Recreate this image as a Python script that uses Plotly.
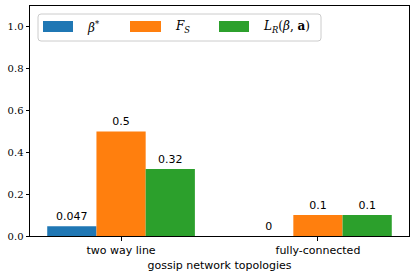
import plotly.graph_objects as go

categories = ["two way line", "fully-connected"]
series_names = ["<i>β</i><sup>*</sup>", "<i>F<sub>S</sub></i>", "<i>L<sub>R</sub></i>(<i>β</i>, <b>a</b>)"]
beta_star = [0.047, 0.0]
f_s = [0.5, 0.1]
l_r = [0.32, 0.1]
colors = ["#1f77b4", "#ff7f0e", "#2ca02c"]

fig = go.Figure()
for name, vals, col in zip(series_names, [beta_star, f_s, l_r], colors):
    fig.add_trace(go.Bar(
        x=categories, y=vals, name=name, marker_color=col,
        marker_line_width=0, showlegend=False,
        text=[f"{v:g}" for v in vals], textposition="outside",
        textfont=dict(family="DejaVu Sans", size=11, color="black"),
        cliponaxis=False,
    ))

# custom legend (matplotlib style: long patches in a rounded box)
L, R, T, B = 30, 409, 6, 236
def px(x): return (x - L) / (R - L)
def py(y): return (B - y) / (B - T)

bx0, bx1, by0, by1, r = 38, 321, 14, 41, 3
path = (f"M {px(bx0 + r)},{py(by0)} L {px(bx1 - r)},{py(by0)} "
        f"Q {px(bx1)},{py(by0)} {px(bx1)},{py(by0 + r)} "
        f"L {px(bx1)},{py(by1 - r)} Q {px(bx1)},{py(by1)} {px(bx1 - r)},{py(by1)} "
        f"L {px(bx0 + r)},{py(by1)} Q {px(bx0)},{py(by1)} {px(bx0)},{py(by1 - r)} "
        f"L {px(bx0)},{py(by0 + r)} Q {px(bx0)},{py(by0)} {px(bx0 + r)},{py(by0)} Z")
fig.add_shape(type="path", xref="paper", yref="paper", path=path,
              line=dict(color="#cccccc", width=1), fillcolor="white", layer="above")
patch_x = [(43, 73), (130, 161), (219, 249)]
label_x = [85, 173, 261]
for name, col, (a, b), lx in zip(series_names, colors, patch_x, label_x):
    fig.add_shape(type="rect", xref="paper", yref="paper",
                  x0=px(a), x1=px(b), y0=py(32), y1=py(21),
                  line=dict(width=0), fillcolor=col, layer="above")
    fig.add_annotation(xref="paper", yref="paper", x=px(lx), y=py(27),
                       xanchor="left", yanchor="middle", text=name, showarrow=False,
                       font=dict(family="DejaVu Serif", size=12, color="black"))

fig.update_layout(
    width=416, height=280,
    margin=dict(l=L, r=416 - R, t=T, b=280 - B),
    paper_bgcolor="white", plot_bgcolor="white",
    barmode="group", bargap=0.25, bargroupgap=0,
    showlegend=False,
    font=dict(family="DejaVu Sans", size=11, color="black"),
)
fig.update_xaxes(
    range=[-0.4625, 1.4625], showline=True, linecolor="black", linewidth=1, mirror=True,
    ticks="outside", ticklen=3.5, tickcolor="black", automargin=False,
    tickfont=dict(family="DejaVu Sans", size=11),
    title=dict(text="gossip network topologies", font=dict(family="DejaVu Sans", size=11), standoff=5),
    showgrid=False,
)
fig.update_yaxes(
    range=[0, 1.1], tickvals=[0, 0.2, 0.4, 0.6, 0.8, 1.0], tickformat=".1f",
    showline=True, linecolor="black", linewidth=1, mirror=True, automargin=False,
    ticks="outside", ticklen=3.5, tickcolor="black",
    tickfont=dict(family="DejaVu Serif", size=10),
    showgrid=False, zeroline=False,
)
fig.write_html("out.html", config={"displayModeBar": False},
               post_script="document.body.style.margin='0';document.body.style.padding='0';")
